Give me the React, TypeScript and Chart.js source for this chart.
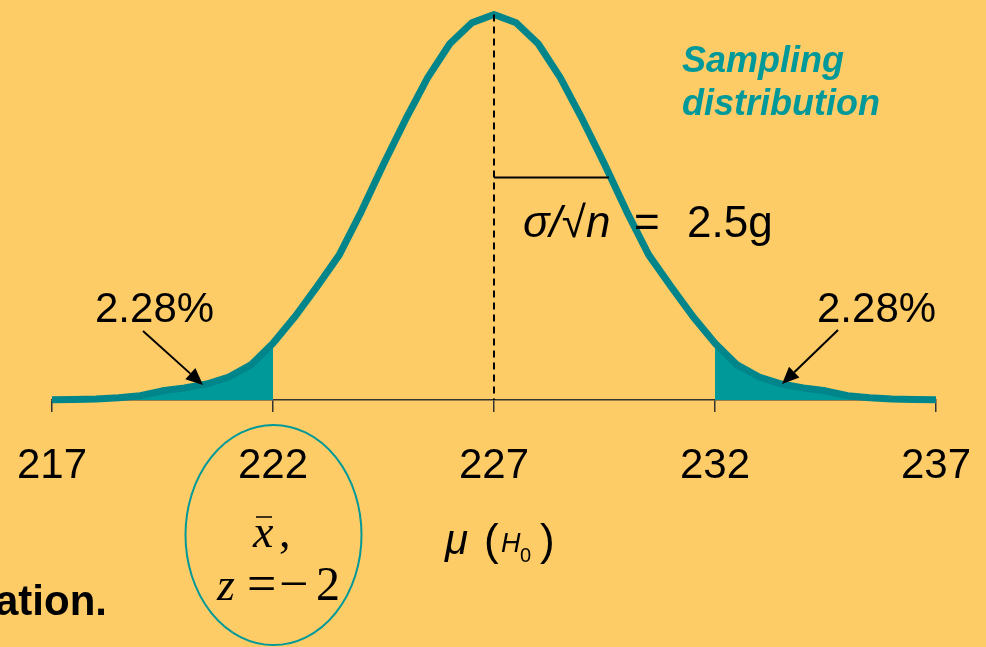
import React, { useEffect, useRef } from "react";
import { Chart, registerables } from "chart.js";

Chart.register(...registerables);

// ---- data ----
const X_VALUES = [
  217, 217.5, 218, 218.5, 219, 219.5, 220, 220.5, 221, 221.5, 222, 222.5, 223, 223.5, 224, 224.5,
  225, 225.5, 226, 226.5, 227, 227.5, 228, 228.5, 229, 229.5, 230, 230.5, 231, 231.5, 232, 232.5,
  233, 233.5, 234, 234.5, 235, 235.5, 236, 236.5, 237,
];
const DENSITY = [
  0.0001, 0.0002, 0.0004, 0.0009, 0.0018, 0.0038, 0.005, 0.0066, 0.0095, 0.0145, 0.0235, 0.0345,
  0.047, 0.06, 0.078, 0.0975, 0.116, 0.1333, 0.1473, 0.156, 0.1594, 0.156, 0.1473, 0.1333, 0.116,
  0.0975, 0.078, 0.06, 0.047, 0.0345, 0.0235, 0.0145, 0.0095, 0.0066, 0.005, 0.0038, 0.0018,
  0.0009, 0.0004, 0.0002, 0.0001,
];
const TICK_VALUES = [217, 222, 227, 232, 237];
const MEAN = 227;
const LEFT_CUT = 222;
const RIGHT_CUT = 232;
const SE_LINE_X = [227, 229.6];
const SE_LINE_Y = 0.092;
const TAIL_LABEL = "2.28%";

const BG = "#FECC67";
const CURVE = "#00868A";
const SHADE = "#009999";
const SANS = "'Liberation Sans', Arial, sans-serif";
const SERIF = "'Liberation Serif', 'Times New Roman', serif";

const curvePts = X_VALUES.map((x, i) => ({ x, y: DENSITY[i] }));
const leftPts = curvePts.filter((p) => p.x <= LEFT_CUT);
const rightPts = curvePts.filter((p) => p.x >= RIGHT_CUT);

function arrow(ctx: CanvasRenderingContext2D, x1: number, y1: number, x2: number, y2: number) {
  const ang = Math.atan2(y2 - y1, x2 - x1);
  const len = 17;
  const w = 7.5;
  const bx = x2 - len * Math.cos(ang);
  const by = y2 - len * Math.sin(ang);
  ctx.strokeStyle = "#000";
  ctx.lineWidth = 2;
  ctx.beginPath();
  ctx.moveTo(x1, y1);
  ctx.lineTo(bx, by);
  ctx.stroke();
  ctx.fillStyle = "#000";
  ctx.beginPath();
  ctx.moveTo(x2, y2);
  ctx.lineTo(bx + w * Math.sin(ang), by - w * Math.cos(ang));
  ctx.lineTo(bx - w * Math.sin(ang), by + w * Math.cos(ang));
  ctx.closePath();
  ctx.fill();
}

const bgPlugin = {
  id: "bg",
  beforeDraw(chart: any) {
    const ctx = chart.ctx;
    ctx.save();
    ctx.fillStyle = BG;
    ctx.fillRect(0, 0, chart.width, chart.height);
    ctx.restore();
  },
};

const annPlugin = {
  id: "ann",
  afterDatasetsDraw(chart: any) {
    const ctx: CanvasRenderingContext2D = chart.ctx;
    const xs = chart.scales.x;
    const ys = chart.scales.y;
    const mx = xs.getPixelForValue(MEAN);
    ctx.save();
    // dashed mean line
    ctx.strokeStyle = "#000";
    ctx.lineWidth = 2;
    ctx.setLineDash([7, 5]);
    ctx.beginPath();
    ctx.moveTo(mx, ys.getPixelForValue(DENSITY[X_VALUES.indexOf(MEAN)]));
    ctx.lineTo(mx, ys.getPixelForValue(0));
    ctx.stroke();
    ctx.setLineDash([]);
    // SE line
    const sy = ys.getPixelForValue(SE_LINE_Y);
    ctx.beginPath();
    ctx.moveTo(xs.getPixelForValue(SE_LINE_X[0]), sy);
    ctx.lineTo(xs.getPixelForValue(SE_LINE_X[1]), sy);
    ctx.stroke();

    ctx.textBaseline = "alphabetic";
    ctx.textAlign = "left";
    ctx.fillStyle = "#000";
    // sigma / sqrt n
    ctx.font = `italic 44px ${SANS}`;
    ctx.fillText("σ/√n", 523, 237);
    ctx.font = `44px ${SANS}`;
    ctx.fillText("=", 634, 237);
    ctx.fillText("2.5g", 687, 237);

    // tail labels
    ctx.font = `42px ${SANS}`;
    ctx.fillText(TAIL_LABEL, 95, 322);
    ctx.fillText(TAIL_LABEL, 817, 322);
    arrow(ctx, 143, 331, 203, 385);
    arrow(ctx, 838, 330, 782, 384);

    // Sampling distribution
    ctx.fillStyle = SHADE;
    ctx.font = `italic bold 36px ${SANS}`;
    ctx.fillText("Sampling", 682, 72);
    ctx.fillText("distribution", 682, 115);

    // mu (H0)
    ctx.fillStyle = "#000";
    ctx.font = `italic 42px ${SANS}`;
    ctx.fillText("μ", 445, 554);
    ctx.font = `44px ${SANS}`;
    ctx.fillText("(", 484, 555);
    ctx.fillText(")", 540, 555);
    ctx.font = `italic 27px ${SANS}`;
    ctx.fillText("H", 501, 552);
    ctx.font = `20px ${SANS}`;
    ctx.fillText("0", 520, 562);

    // ellipse
    ctx.strokeStyle = SHADE;
    ctx.lineWidth = 2;
    ctx.beginPath();
    ctx.ellipse(xs.getPixelForValue(LEFT_CUT) + 0.5, 535, 88, 110, 0, 0, Math.PI * 2);
    ctx.stroke();

    // x-bar, z = -2
    ctx.fillStyle = "#000";
    ctx.font = `italic 46px ${SERIF}`;
    ctx.fillText("x", 253, 547);
    ctx.font = `46px ${SERIF}`;
    ctx.fillText(",", 279, 547);
    ctx.strokeStyle = "#000";
    ctx.lineWidth = 1.5;
    ctx.beginPath();
    ctx.moveTo(256, 517);
    ctx.lineTo(272, 517);
    ctx.stroke();
    ctx.font = `italic 46px ${SERIF}`;
    ctx.fillText("z", 217, 600);
    ctx.font = `52px ${SERIF}`;
    ctx.fillText("=", 247, 601);
    ctx.fillText("−", 279, 601);
    ctx.font = `48px ${SERIF}`;
    ctx.fillText("2", 316, 600);

    // cut-off text at bottom left
    ctx.font = `bold 42px ${SANS}`;
    ctx.textAlign = "right";
    ctx.fillText("ation.", 107, 615);
    ctx.restore();
  },
};

export default function App() {
  const ref = useRef<HTMLCanvasElement>(null);
  useEffect(() => {
    document.body.style.margin = "0";
    document.body.style.background = BG;
    const chart = new Chart(ref.current as HTMLCanvasElement, {
      type: "line",
      data: {
        datasets: [
          {
            data: curvePts,
            borderColor: CURVE,
            borderWidth: 7,
            pointRadius: 0,
            tension: 0,
            fill: false,
            clip: false as any,
            borderJoinStyle: "round",
            borderCapStyle: "butt",
          },
          {
            data: leftPts,
            borderWidth: 0,
            borderColor: SHADE,
            backgroundColor: SHADE,
            pointRadius: 0,
            tension: 0,
            fill: "origin",
          },
          {
            data: rightPts,
            borderWidth: 0,
            borderColor: SHADE,
            backgroundColor: SHADE,
            pointRadius: 0,
            tension: 0,
            fill: "origin",
          },
        ],
      },
      options: {
        animation: false,
        responsive: false,
        devicePixelRatio: 1,
        layout: { padding: { left: 52, right: 50, top: 13, bottom: 0 } },
        plugins: { legend: { display: false }, tooltip: { enabled: false } },
        scales: {
          x: {
            type: "linear",
            min: 217,
            max: 237,
            afterBuildTicks: (scale: any) => {
              scale.ticks = TICK_VALUES.map((v) => ({ value: v }));
            },
            afterFit: (scale: any) => {
              scale.height = 247;
              scale.paddingLeft = 0;
              scale.paddingRight = 0;
            },
            border: { display: true, color: "#333", width: 1.5 },
            grid: {
              display: true,
              drawOnChartArea: false,
              drawTicks: true,
              tickLength: 12,
              color: "#333",
              lineWidth: 1.5,
            },
            ticks: {
              autoSkip: false,
              maxRotation: 0,
              color: "#000",
              padding: 29,
              font: { size: 42, family: SANS },
            },
          },
          y: { display: false, min: 0, max: 0.16 },
        },
      },
      plugins: [bgPlugin, annPlugin],
    });
    return () => chart.destroy();
  }, []);
  return (
    <div style={{ position: "fixed", left: 0, top: 0, width: 986, height: 647 }}>
      <canvas ref={ref} width={986} height={647} style={{ width: 986, height: 647, display: "block" }} />
    </div>
  );
}
